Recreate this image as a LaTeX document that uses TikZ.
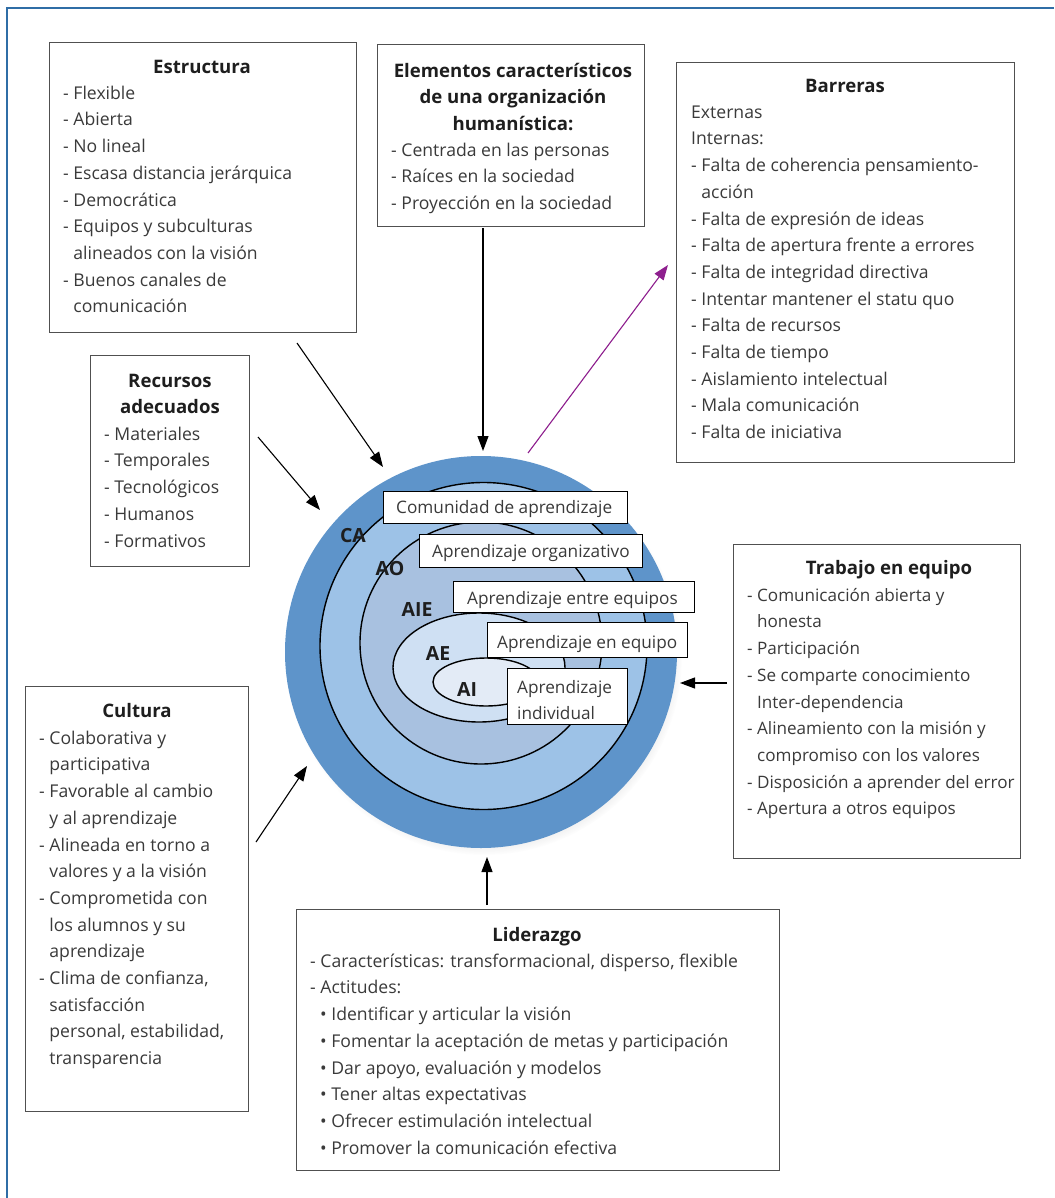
\documentclass[tikz,border=0pt]{standalone}
\usepackage{fontspec}
\setmainfont{Open Sans}
\usetikzlibrary{arrows.meta,shadows}
\definecolor{txt}{HTML}{3A3A3A}
\definecolor{ttl}{HTML}{1E1E1E}
\definecolor{boxline}{HTML}{505050}
\definecolor{framec}{HTML}{2F6DA6}
\definecolor{ringA}{HTML}{5E94CA}
\definecolor{ringB}{HTML}{9DC2E7}
\definecolor{ringC}{HTML}{A8C1E0}
\definecolor{ringD}{HTML}{CFE0F3}
\definecolor{ringE}{HTML}{E3EBF6}
\definecolor{purp}{HTML}{8E1F8E}
\tikzset{
  panel/.style={draw=boxline, line width=1.3pt, fill=white, inner sep=0pt, anchor=north west},
  body/.style={font=\fontsize{17.6}{26.7}\selectfont, text=txt, align=left, inner sep=0pt, anchor=north west, yshift=18.69pt},
  ttlnode/.style={font=\fontsize{18.6}{26.7}\selectfont\bfseries, text=ttl, align=center, inner sep=0pt, anchor=north, yshift=18.69pt},
  lbl/.style={draw=black, line width=1.3pt, fill=white, inner sep=0pt, anchor=north west},
  lbltext/.style={font=\fontsize{17.2}{26}\selectfont, text=txt, align=left, inner sep=0pt, anchor=north west, yshift=18.2pt},
  ring/.style={draw=black, line width=1.4pt},
  ringlbl/.style={font=\fontsize{19.5}{20}\selectfont\bfseries, text=ttl, inner sep=0pt, anchor=base},
  arr/.style={draw=black, line width=1.1pt, -{Triangle[length=15pt,width=11pt]}},
}
\begin{document}
\begin{tikzpicture}[x=1pt,y=-1pt]
\useasboundingbox (0,0) rectangle (1054,1198);
\draw[framec, line width=1.5pt] (1054,8) -- (7,8) -- (7,1198);

% ---- circles ----
\fill[ringA, circular drop shadow={shadow xshift=3pt, shadow yshift=-5pt, opacity=0.35, shadow scale=1.01}] (481,652) circle[radius=196];
\filldraw[ring, fill=ringB] (483.5,646) circle[radius=163.5];
\filldraw[ring, fill=ringC] (481,643) circle[radius=121];
\filldraw[ring, fill=ringD] (479,667.5) ellipse[x radius=86, y radius=54.5];
\filldraw[ring, fill=ringE] (486,682) ellipse[x radius=53, y radius=24];

\node[ringlbl] (lca) at (353,542) {CA};
\node[ringlbl] (lao) at (390,575) {AO};
\node[ringlbl] (laie) at (417,616) {AIE};
\node[ringlbl] (lae) at (438,660) {AE};
\node[ringlbl] (lai) at (467,696) {AI};

% label boxes
\node[lbl, minimum width=244, minimum height=32] (bca) at (383,491) {};
\node[lbltext] (tca) at (396,513) {\strut Comunidad de aprendizaje};
\node[lbl, minimum width=223, minimum height=33] (bao) at (419,534) {};
\node[lbltext] (tao) at (432,557) {\strut Aprendizaje organizativo};
\node[lbl, minimum width=241, minimum height=31] (baie) at (453,581) {};
\node[lbltext] (taie) at (467,604) {\strut Aprendizaje entre equipos};
\node[lbl, minimum width=200, minimum height=35] (bae) at (487,622) {};
\node[lbltext] (tae) at (497,648) {\strut Aprendizaje en equipo};
\node[lbl, minimum width=120, minimum height=56] (bai) at (507,668) {};
\node[lbltext] (tai) at (517,693) {\strut Aprendizaje\\individual};

% ---- Estructura ----
\node[panel, minimum width=307, minimum height=290] (estr) at (49,42) {};
\node[ttlnode] (estrt) at (202,73) {\strut Estructura};
\node[body] (estrb) at (63,99) {\strut - Flexible\\- Abierta\\- No lineal\\- Escasa distancia jerárquica\\- Democrática\\- Equipos y subculturas\\\phantom{- }alineados con la visión\\- Buenos canales de\\\phantom{- }comunicación};

% ---- Elementos ----
\node[panel, minimum width=267, minimum height=182] (elem) at (377,44) {};
\node[ttlnode] (elemt) at (513,77) {\strut Elementos característicos\\de una organización\\humanística:};
\node[body] (elemb) at (391,156) {\strut - Centrada en las personas\\- Raíces en la sociedad\\- Proyección en la sociedad};

% ---- Barreras ----
\node[panel, minimum width=338, minimum height=400] (barr) at (676,62) {};
\node[ttlnode] (barrt) at (845,92) {\strut Barreras};
\node[body] (barrb) at (691,118) {\strut Externas\\Internas:\\- Falta de coherencia pensamiento-\\\phantom{- }acción\\- Falta de expresión de ideas\\- Falta de apertura frente a errores\\- Falta de integridad directiva\\- Intentar mantener el statu quo\\- Falta de recursos\\- Falta de tiempo\\- Aislamiento intelectual\\- Mala comunicación\\- Falta de iniciativa};

% ---- Recursos ----
\node[panel, minimum width=159, minimum height=211] (recu) at (90,355) {};
\node[ttlnode] (recut) at (170,387) {\strut Recursos\\adecuados};
\node[body] (recub) at (104,440) {\strut - Materiales\\- Temporales\\- Tecnológicos\\- Humanos\\- Formativos};

% ---- Trabajo en equipo ----
\node[panel, minimum width=287, minimum height=314] (trab) at (733,544) {};
\node[ttlnode] (trabt) at (889,574) {\strut Trabajo en equipo};
\node[body, font=\fontsize{17.1}{26.7}\selectfont] (trabb) at (747,601) {\strut - Comunicación abierta y\\\phantom{- }honesta\\- Participación\\- Se comparte conocimiento\\\phantom{- }Inter-dependencia\\- Alineamiento con la misión y\\\phantom{- }compromiso con los valores\\- Disposición a aprender del error\\- Apertura a otros equipos};

% ---- Cultura ----
\node[panel, minimum width=223, minimum height=425] (cult) at (25,686) {};
\node[ttlnode] (cultt) at (137,717) {\strut Cultura};
\node[body] (cultb) at (39,744) {\strut - Colaborativa y\\\phantom{- }participativa\\- Favorable al cambio\\\phantom{- }y al aprendizaje\\- Alineada en torno a\\\phantom{- }valores y a la visión\\- Comprometida con\\\phantom{- }los alumnos y su\\\phantom{- }aprendizaje\\- Clima de confianza,\\\phantom{- }satisfacción\\\phantom{- }personal, estabilidad,\\\phantom{- }transparencia};

% ---- Liderazgo ----
\node[panel, minimum width=483, minimum height=261] (lide) at (296,909) {};
\node[ttlnode] (lidet) at (537,941) {\strut Liderazgo};
\node[body] (lideb) at (310,967) {\strut - Características: transformacional, disperso, flexible\\- Actitudes:\\\hspace*{10pt}• Identificar y articular la visión\\\hspace*{10pt}• Fomentar la aceptación de metas y participación\\\hspace*{10pt}• Dar apoyo, evaluación y modelos\\\hspace*{10pt}• Tener altas expectativas\\\hspace*{10pt}• Ofrecer estimulación intelectual\\\hspace*{10pt}• Promover la comunicación efectiva};

% ---- arrows ----
\coordinate (e1) at (297,343);  \coordinate (e2) at (383,467);
\coordinate (r1) at (258,437);  \coordinate (r2) at (320,510);
\coordinate (m1) at (483,228);  \coordinate (m2) at (483,451);
\coordinate (b1) at (528,453);  \coordinate (b2) at (668,265);
\coordinate (t1) at (727,683);  \coordinate (t2) at (680,683);
\coordinate (l1) at (487,905);  \coordinate (l2) at (487,857);
\coordinate (c1) at (256,842);  \coordinate (c2) at (307,766);
\draw[arr] (e1) -- (e2);
\draw[arr] (r1) -- (r2);
\draw[arr] (m1) -- (m2);
\draw[arr, draw=purp, fill=purp] (b1) -- (b2);
\draw[arr] (t1) -- (t2);
\draw[arr] (l1) -- (l2);
\draw[arr] (c1) -- (c2);
\end{tikzpicture}
\end{document}
